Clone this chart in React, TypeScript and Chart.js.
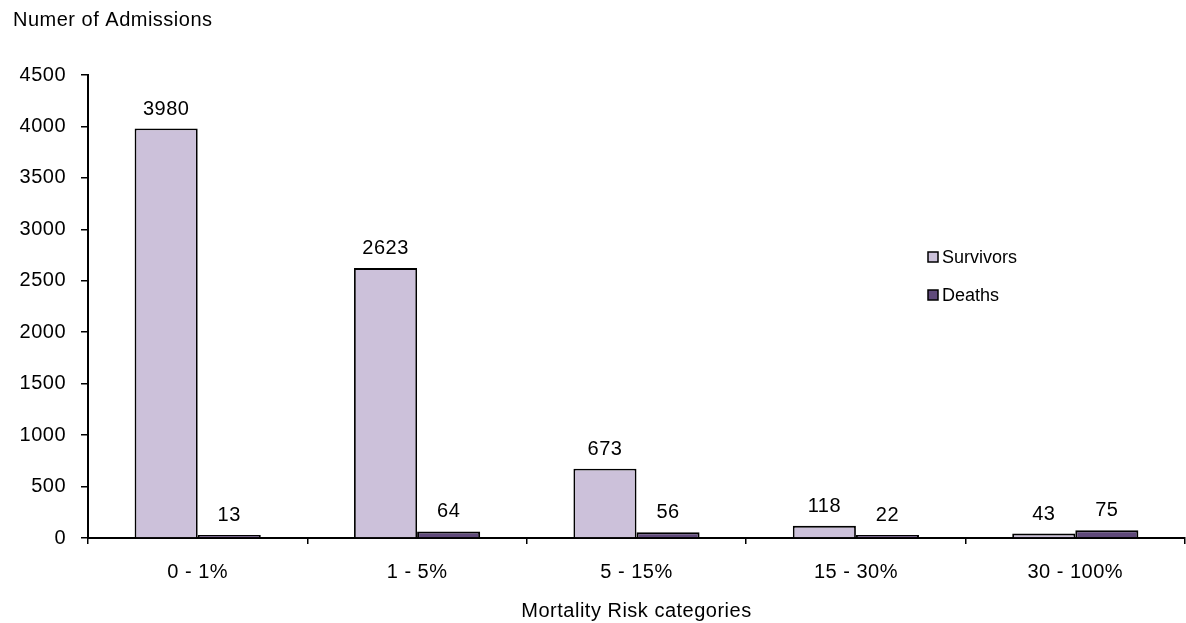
import React, { useEffect, useRef } from "react";
import { Chart, registerables } from "chart.js";

Chart.register(...registerables);

const categories = ["0 - 1%", "1 - 5%", "5 - 15%", "15 - 30%", "30 - 100%"];
const survivors = [3980, 2623, 673, 118, 43];
const deaths = [13, 64, 56, 22, 75];
const seriesNames = ["Survivors", "Deaths"];
const yTitle = "Numer of Admissions";
const xTitle = "Mortality Risk categories";

const FONT = "'Liberation Sans', Arial, sans-serif";
const FS = 20;
const LS = "0.5px";
const SURV_COLOR = "#CCC1DA";
const DEATH_COLOR = "#604A7B";

const spacingPlugin = {
  id: "spacing",
  beforeUpdate(chart: any) {
    chart.ctx.letterSpacing = LS;
  },
  beforeDraw(chart: any) {
    chart.ctx.letterSpacing = LS;
  },
};

const extrasPlugin = {
  id: "extras",
  afterDatasetsDraw(chart: any) {
    const ctx = chart.ctx;
    ctx.save();
    ctx.letterSpacing = LS;
    ctx.font = `${FS}px ${FONT}`;
    ctx.fillStyle = "#000";
    ctx.textAlign = "center";
    ctx.textBaseline = "alphabetic";
    chart.data.datasets.forEach((ds: any, i: number) => {
      const meta = chart.getDatasetMeta(i);
      meta.data.forEach((el: any, j: number) => {
        ctx.fillText(String(ds.data[j]), el.x, el.y - 14);
      });
    });
    ctx.restore();
  },
  afterDraw(chart: any) {
    const ctx = chart.ctx;
    ctx.save();
    ctx.letterSpacing = LS;
    ctx.font = `${FS}px ${FONT}`;
    ctx.fillStyle = "#000";
    ctx.textAlign = "left";
    ctx.textBaseline = "alphabetic";
    ctx.fillText(yTitle, 13, 26);
    ctx.letterSpacing = "0px";
    ctx.font = `18px ${FONT}`;
    const colors = [SURV_COLOR, DEATH_COLOR];
    seriesNames.forEach((name, i) => {
      const cy = 257 + i * 38;
      ctx.fillStyle = colors[i];
      ctx.fillRect(928, cy - 5, 10, 10);
      ctx.strokeStyle = "#000";
      ctx.lineWidth = 1.5;
      ctx.strokeRect(928, cy - 5, 10, 10);
      ctx.fillStyle = "#000";
      ctx.textBaseline = "middle";
      ctx.fillText(name, 942, cy + 1);
    });
    ctx.restore();
  },
};

export default function App() {
  const ref = useRef<HTMLCanvasElement | null>(null);
  useEffect(() => {
    if (!ref.current) return;
    Chart.defaults.font.family = FONT;
    Chart.defaults.font.size = FS;
    Chart.defaults.color = "#000";
    const chart = new Chart(ref.current, {
      type: "bar",
      data: {
        labels: categories,
        datasets: [
          {
            label: seriesNames[0],
            data: survivors,
            backgroundColor: SURV_COLOR,
            borderColor: "#000",
            borderWidth: 1.8,
            minBarLength: 3,
            categoryPercentage: 0.575,
            barPercentage: 1,
          },
          {
            label: seriesNames[1],
            data: deaths,
            backgroundColor: DEATH_COLOR,
            borderColor: "#000",
            borderWidth: 2,
            minBarLength: 3,
            categoryPercentage: 0.575,
            barPercentage: 1,
          },
        ],
      },
      options: {
        responsive: false,
        animation: false,
        devicePixelRatio: 1,
        layout: { padding: { top: 75, right: 1, bottom: 0, left: 0 } },
        plugins: {
          legend: { display: false },
          tooltip: { enabled: false },
          title: { display: false },
        },
        scales: {
          x: {
            grid: {
              display: true,
              drawOnChartArea: false,
              drawTicks: true,
              tickLength: 6,
              offset: true,
              color: "#000",
              lineWidth: 1.5,
            },
            border: { display: true, color: "#000", width: 2 },
            ticks: { padding: 16, color: "#000", font: { size: FS }, maxRotation: 0 },
            title: {
              display: true,
              text: xTitle,
              color: "#000",
              font: { size: FS },
              padding: { top: 0, bottom: 0 },
            },
            afterFit(scale: any) {
              scale.height = 85;
            },
          },
          y: {
            min: 0,
            max: 4500,
            grid: {
              display: true,
              drawOnChartArea: false,
              drawTicks: true,
              tickLength: 7,
              color: "#000",
              lineWidth: 1.5,
            },
            border: { display: true, color: "#000", width: 2 },
            ticks: {
              stepSize: 500,
              padding: 15,
              color: "#000",
              font: { size: FS },
              callback: (v: any) => String(v),
            },
            afterFit(scale: any) {
              scale.width = 88;
            },
          },
        },
      },
      plugins: [spacingPlugin, extrasPlugin],
    } as any);
    return () => chart.destroy();
  }, []);
  return (
    <div style={{ position: "fixed", left: 0, top: 0, width: 1186, height: 623, background: "#fff" }}>
      <canvas ref={ref} width={1186} height={623} style={{ display: "block" }} />
    </div>
  );
}
